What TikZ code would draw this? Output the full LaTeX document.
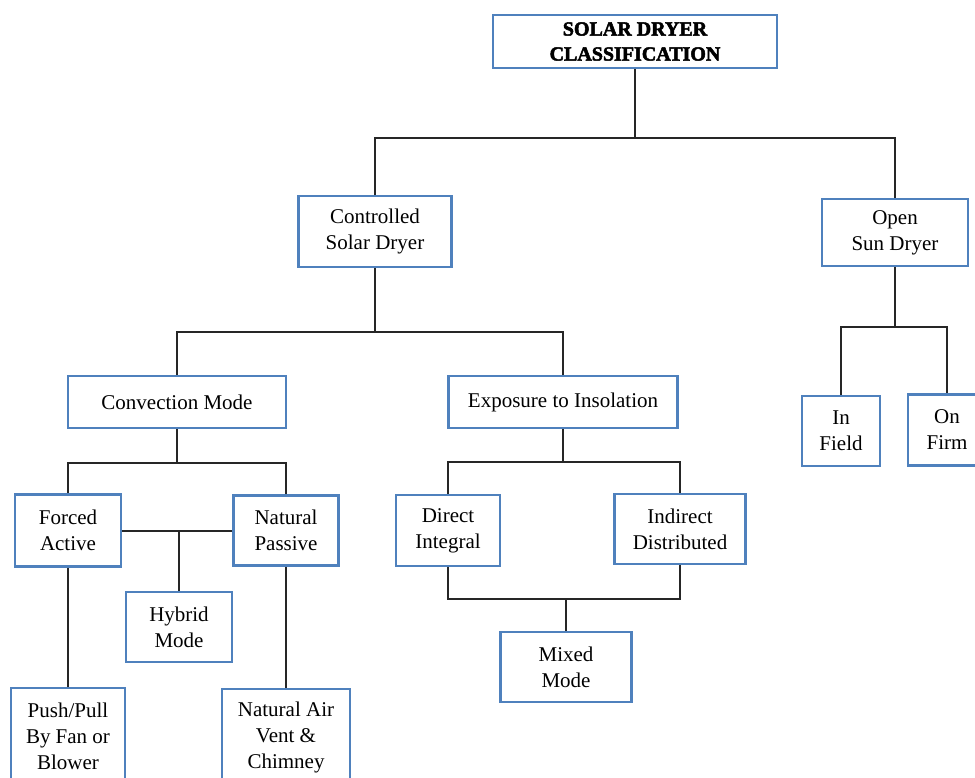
\documentclass[tikz,border=0pt]{standalone}
\usepackage{fontspec}
\setmainfont{Liberation Serif}
\newfontfamily\heavyfont[FakeBold=2.5]{Liberation Serif Bold}
\usepackage{xcolor}
\usepackage{tikz}
\usetikzlibrary{calc}
\definecolor{boxblue}{HTML}{4F81BD}
\definecolor{linegray}{HTML}{262626}
\tikzset{
  line/.style={draw=linegray, line width=2pt},
  box/.style={
    draw=boxblue,
    line width=2.6pt,
    fill=white,
    align=center,
    font=\rmfamily\fontsize{21}{26}\selectfont,
    inner sep=0pt
  }
}

\begin{document}
\begin{tikzpicture}[x=1pt,y=-1pt]
  \path[use as bounding box] (0,0) rectangle (975,778);

  \node[box, font=\heavyfont\fontsize{20}{25}\selectfont, minimum width=284, minimum height=53] (title) at (635,41.5)
    {SOLAR DRYER\\CLASSIFICATION};

  \node[box, minimum width=153, minimum height=71] (controlled) at (375,231.5)
    {Controlled\\Solar Dryer};
  \node[box, minimum width=146, minimum height=67] (opensun) at (895,232.5)
    {Open\\Sun Dryer};

  \node[box, minimum width=218, minimum height=52] (convection) at (177,402)
    {Convection Mode};
  \node[box, minimum width=229, minimum height=52] (exposure) at (563,402)
    {Exposure to Insolation};
  \node[box, minimum width=78, minimum height=70] (infield) at (841,431)
    {In\\Field};
  \node[box, minimum width=78, minimum height=71] (onfirm) at (947,430)
    {On\\Firm};

  \node[box, minimum width=106, minimum height=72] (forced) at (68,530.5)
    {Forced\\Active};
  \node[box, minimum width=105, minimum height=70] (natural) at (286,530.5)
    {Natural\\Passive};
  \node[box, minimum width=106, minimum height=70] (hybrid) at (179,627)
    {Hybrid\\Mode};
  \node[box, minimum width=114, minimum height=96] (pushpull) at (68,736)
    {Push/Pull\\By Fan or\\Blower};
  \node[box, minimum width=128, minimum height=96] (naturalair) at (286,737)
    {Natural Air\\Vent \&\\Chimney};

  \node[box, minimum width=104, minimum height=71] (direct) at (448,530.5)
    {Direct\\Integral};
  \node[box, minimum width=131, minimum height=70] (indirect) at (680,529)
    {Indirect\\Distributed};
  \node[box, minimum width=131, minimum height=70] (mixed) at (566,667)
    {Mixed\\Mode};

  \coordinate (splitroot) at (635,138);
  \coordinate (splitctrl) at (375,332);
  \coordinate (splitopen) at (895,327);
  \coordinate (splitconv) at (177,463);
  \coordinate (splitexpo) at (563,462);
  \coordinate (joinmixed) at (566,599);

  \draw[line] (title.south) -- (splitroot);
  \draw[line] (splitroot) -| (controlled.north);
  \draw[line] (splitroot) -| (opensun.north);

  \draw[line] (controlled.south) -- (splitctrl);
  \draw[line] (splitctrl) -| (convection.north);
  \draw[line] (splitctrl) -| (exposure.north);

  \draw[line] (opensun.south) -- (splitopen);
  \draw[line] (splitopen) -| (infield.north);
  \draw[line] (splitopen) -| (onfirm.north);

  \draw[line] (convection.south) -- (splitconv);
  \draw[line] (splitconv) -| (forced.north);
  \draw[line] (splitconv) -| (natural.north);
  \draw[line] (forced.east) -- (natural.west);
  \draw[line] (hybrid.north) -- (hybrid.north |- forced.east);
  \draw[line] (forced.south) -- (pushpull.north);
  \draw[line] (natural.south) -- (naturalair.north);

  \draw[line] (exposure.south) -- (splitexpo);
  \draw[line] (splitexpo) -| (direct.north);
  \draw[line] (splitexpo) -| (indirect.north);
  \draw[line] (direct.south) |- (joinmixed);
  \draw[line] (indirect.south) |- (joinmixed);
  \draw[line] (joinmixed) -- (mixed.north);
\end{tikzpicture}
\end{document}
